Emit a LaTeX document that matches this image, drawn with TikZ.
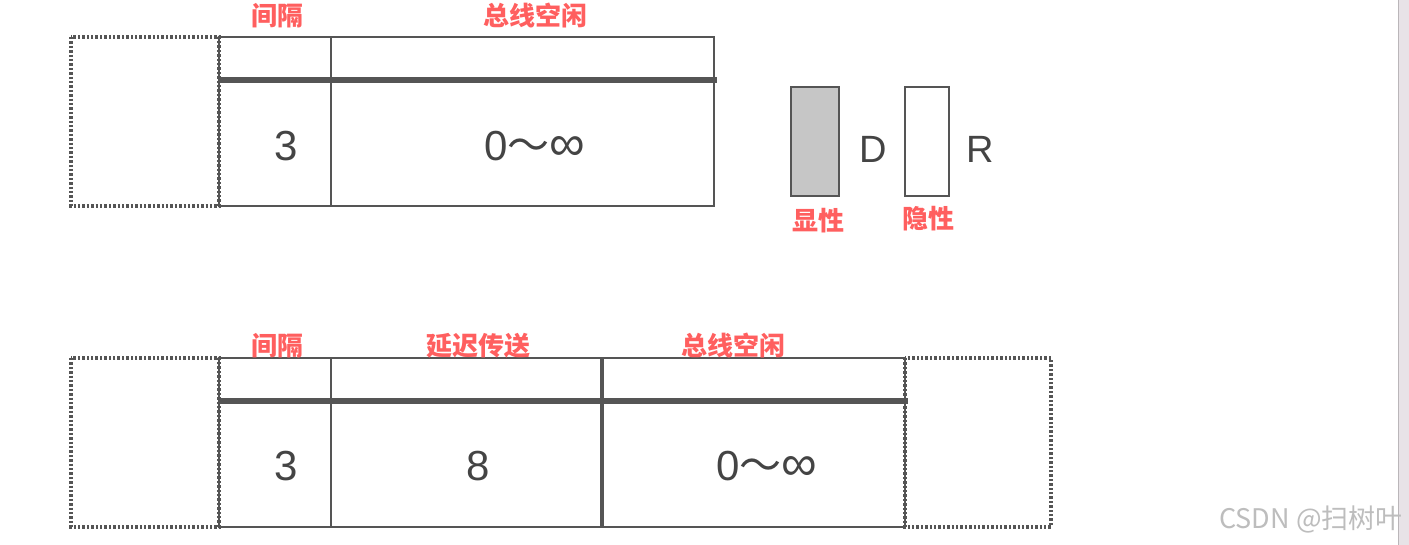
\documentclass[tikz,border=0pt]{standalone}
\usepackage{fontspec}
\setmainfont{Liberation Sans}
\newfontfamily\cjk{Noto Sans CJK SC}
\definecolor{frame}{HTML}{555555}
\definecolor{label}{HTML}{FF5F5F}
\definecolor{digit}{HTML}{444444}
\definecolor{dom}{HTML}{C6C6C6}
\definecolor{mark}{HTML}{BDBDBD}
\definecolor{strip}{HTML}{E8E3E7}
\newcommand{\infrange}{0{\cjk ～}{\fontsize{25}{25}\selectfont ∞}}
\tikzset{
  seg/.style={draw=frame,line width=1.2pt},
  bar/.style={draw=frame,line width=2.6pt},
  ghost/.style={draw=frame,line width=1.8pt,dash pattern=on 1.2pt off 1pt},
  field_lbl/.style={font=\cjk\bfseries\fontsize{13}{13}\selectfont,text=label,inner sep=0pt},
  val/.style={font=\fontsize{21}{21}\selectfont,text=digit,inner sep=0pt},
  bit_lbl/.style={font=\fontsize{19}{19}\selectfont,text=digit,inner sep=0pt},
}

\begin{document}
\begin{tikzpicture}[x=0.5pt,y=-0.5pt]
  \useasboundingbox[fill=white] (0,0) rectangle (1409,545);
  % right edge strip
  \fill[strip] (1399,0) rectangle (1409,545);
  \draw[strip!80!black,line width=0.4pt] (1398.5,0) -- (1398.5,545);

  % upper frame
  \draw[ghost] (71,37) rectangle (219,206);
  \draw[seg] (219,37) rectangle (714,206);
  \draw[seg] (331,37) -- (331,206);
  \draw[bar] (219,80) -- (717,80);
  \node[field_lbl] (gap1) at (277,16) {间隔};
  \node[field_lbl] (idle1) at (535,16) {总线空闲};
  \node[val] (n3a) at (286,146) {3};
  \node[val] (inf1) at (535,146) {\infrange};

  % legend
  \draw[seg,fill=dom] (791,87) rectangle (839,196);
  \draw[seg] (905,87) rectangle (949,196);
  \node[bit_lbl] (dD) at (873,149) {D};
  \node[bit_lbl] (rR) at (980,149) {R};
  \node[field_lbl] (dom) at (818,221) {显性};
  \node[field_lbl] (rec) at (928,219) {隐性};

  % lower frame
  \draw[ghost] (71,358) rectangle (219,527);
  \draw[ghost] (905,358) rectangle (1051,527);
  \draw[seg] (219,358) rectangle (905,527);
  \draw[seg] (331,358) -- (331,527);
  \draw[frame,line width=2pt] (602,358) -- (602,527);
  \draw[bar] (219,401) -- (908,401);
  \node[field_lbl] (gap2) at (277,346) {间隔};
  \node[field_lbl] (susp) at (478,346) {延迟传送};
  \node[field_lbl] (idle2) at (733,346) {总线空闲};
  \node[val] (n3b) at (286,466) {3};
  \node[val] (n8) at (478,466) {8};
  \node[val] (inf2) at (767,466) {\infrange};

  % watermark
  \node[font=\cjk\fontsize{13.5}{13.5}\selectfont,text=mark,inner sep=0pt,anchor=east] (wm) at (1403,519) {CSDN @扫树叶};
\end{tikzpicture}
\end{document}
